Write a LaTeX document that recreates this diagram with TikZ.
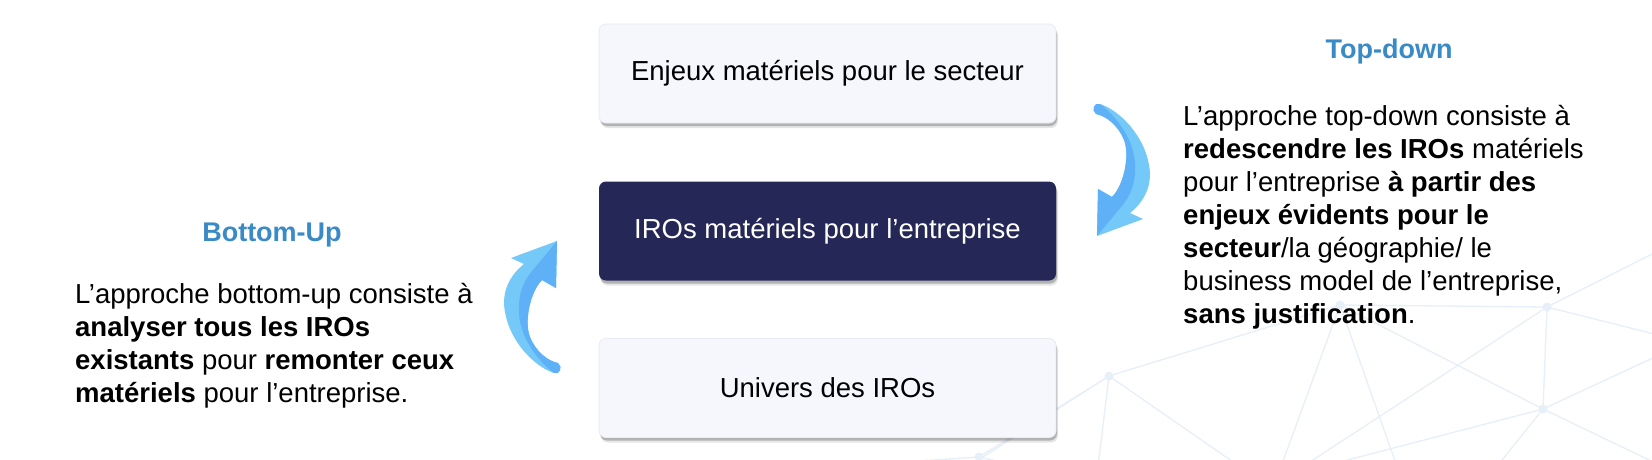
\documentclass[tikz,border=0pt]{standalone}
\usepackage{fontspec}
\setmainfont{Liberation Sans}
\usetikzlibrary{shadows}
\definecolor{lightfill}{RGB}{246,247,252}
\definecolor{lightedge}{RGB}{234,235,242}
\definecolor{navy}{RGB}{37,40,86}
\definecolor{titleblue}{RGB}{58,138,200}
\definecolor{arrowlight}{RGB}{117,201,248}
\definecolor{arrowdark}{RGB}{94,177,247}
\definecolor{netline}{RGB}{231,239,248}
\newcommand{\bodysize}{\fontsize{27.5}{33}\selectfont}
\newcommand{\titlesize}{\fontsize{27}{32}\selectfont}
\newcommand{\curvedarrow}{%
  \fill[arrowlight] (-24,-66) .. controls (-5,-60) and (20,-35) .. (25,-5)
    .. controls (29,15) and (20,32) .. (6,43)
    -- (19,49) -- (-27,66) -- (-26,19) -- (-12,27)
    .. controls (0,15) and (6,-15) .. (0,-30)
    .. controls (-6,-45) and (-18,-54) .. (-28,-56)
    .. controls (-33,-60) and (-30,-68) .. (-24,-66) -- cycle;
  \fill[arrowdark] (-24,-66) .. controls (-10,-56) and (10,-32) .. (11,-6)
    .. controls (12,14) and (6,27) .. (-3,37)
    -- (-27,66) -- (-26,19) -- (-12,27)
    .. controls (0,15) and (6,-15) .. (0,-30)
    .. controls (-6,-45) and (-18,-54) .. (-28,-56)
    .. controls (-33,-60) and (-30,-68) .. (-24,-66) -- cycle;
}
\tikzset{
  stepbox/.style={rounded corners=7pt, minimum width=457pt, minimum height=99pt,
    inner sep=0pt, font=\bodysize,
    drop shadow={shadow xshift=1pt, shadow yshift=-3pt, opacity=.22, fill=black},
    drop shadow={shadow xshift=2pt, shadow yshift=-5pt, opacity=.10, fill=black}},
  lightbox/.style={stepbox, fill=lightfill, draw=lightedge, line width=0.8pt},
  darkbox/.style={stepbox, fill=navy, text=white},
  titletext/.style={font=\titlesize\bfseries, text=titleblue, inner sep=0pt},
  bodytext/.style={font=\bodysize, align=left, inner sep=0pt, anchor=north west},
  net/.style={draw=netline, line width=1.3pt},
  netdot/.style={fill=netline}
}
\begin{document}
\begin{tikzpicture}[x=1pt, y=-1pt]
\fill[white] (0,0) rectangle (1652,459);
\useasboundingbox (0,0) rectangle (1652,459);
% faint background network
\coordinate (nA) at (1109,376);
\coordinate (nB) at (1340,305);
\coordinate (nC) at (1547,307);
\coordinate (nD) at (1543,409);
\coordinate (nE) at (979,457);
\coordinate (o1) at (955,475);
\coordinate (o2) at (1097,475);
\coordinate (o3) at (1252,475);
\coordinate (o4) at (1278,475);
\coordinate (o5) at (1400,475);
\coordinate (o6) at (1290,475);
\coordinate (o7) at (1490,475);
\coordinate (o8) at (1670,338);
\coordinate (o9) at (1670,350);
\coordinate (o10) at (1670,470);
\coordinate (o11) at (700,475);
\coordinate (o12) at (1060,475);
\coordinate (o13) at (1660,250);
\path[net] (nA) -- (nB) (nA) -- (o1) (nA) -- (o2) (nA) -- (o3)
  (nB) -- (o4) (nB) -- (o5) (nB) -- (nD) (nB) -- (nC)
  (nC) -- (nD) (nC) -- (o6) (nC) -- (o8) (nC) -- (o13)
  (nD) -- (o7) (nD) -- (o9) (nD) -- (o10) (nD) -- (o6)
  (nE) -- (o11) (nE) -- (o12) (nE) -- (nA);
\foreach \p in {nA,nB,nC,nD,nE} \fill[netdot] (\p) circle (4.5);
% boxes
\node[lightbox] (sector) at (827.5,73.5) {Enjeux matériels pour le secteur};
\node[darkbox] (company) at (827.5,231) {IROs matériels pour l’entreprise};
\node[lightbox] (universe) at (827.5,388) {Univers des IROs};
% curved arrows
\begin{scope}[shift={(1124,170)}]
\curvedarrow
\end{scope}
\begin{scope}[shift={(530,307)}, rotate=180]
\curvedarrow
\end{scope}
% titles
\node[titletext, anchor=base] (tdtitle) at (1389,58) {Top-down};
\node[titletext, anchor=base] (butitle) at (272,241) {Bottom-Up};
% paragraphs
\node[bodytext] (tdtext) at (1183,105) {L’approche top-down consiste à\\
\textbf{redescendre les IROs} matériels\\
pour l’entreprise \textbf{à partir des}\\
\textbf{enjeux évidents pour le}\\
\textbf{secteur}/la géographie/ le\\
business model de l’entreprise,\\
\textbf{sans justification}.};
\node[bodytext] (butext) at (75,283) {L’approche bottom-up consiste à\\
\textbf{analyser tous les IROs}\\
\textbf{existants} pour \textbf{remonter ceux}\\
\textbf{matériels} pour l’entreprise.};
\end{tikzpicture}
\end{document}
